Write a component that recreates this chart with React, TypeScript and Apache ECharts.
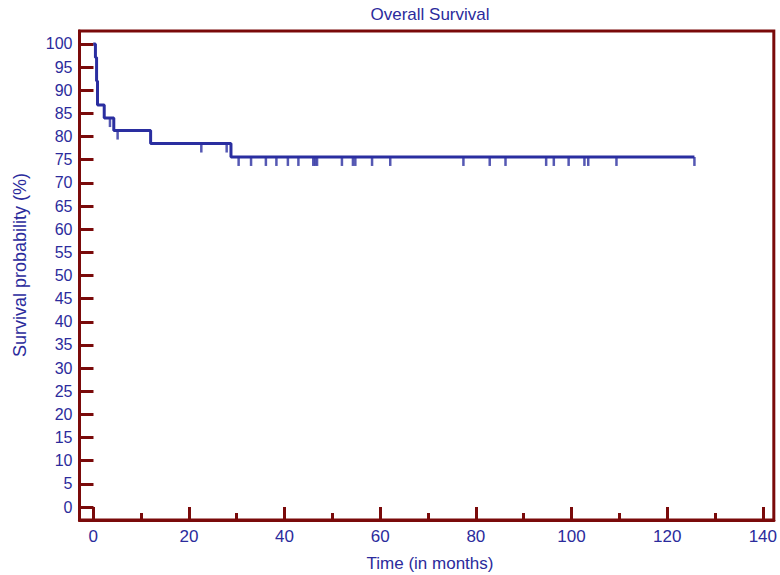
import React, { useEffect, useRef } from "react";
import * as echarts from "echarts";

const titleText = "Overall Survival";
const xName = "Time (in months)";
const yName = "Survival probability (%)";

// Kaplan-Meier step points (time in months, survival %)
const stepTimes = [0, 0.46, 0.7, 0.9, 2.3, 4.3, 12.0, 28.8, 125.7];
const stepValues = [100, 97.1, 92.0, 86.8, 84.0, 81.3, 78.5, 75.6, 75.6];

// censored observations (time in months)
const censorTimes = [
  3.5, 5.1, 22.6, 27.9, 30.4, 33.0, 36.1, 38.3, 40.7, 42.9, 46.0, 46.4, 46.8,
  52.0, 54.3, 54.8, 58.3, 62.1, 77.4, 82.9, 86.2, 94.7, 96.3, 99.4, 102.7,
  103.5, 109.4, 125.7,
];

const xMajorTicks = [0, 20, 40, 60, 80, 100, 120, 140];
const xMinorTicks = [10, 30, 50, 70, 90, 110, 130];
const yTicks = [0, 5, 10, 15, 20, 25, 30, 35, 40, 45, 50, 55, 60, 65, 70, 75, 80, 85, 90, 95, 100];

const AXIS_COLOR = "#7a0a0a";
const TEXT_COLOR = "#2b2b9c";
const LINE_COLOR = "#2a2ea0";
const FONT = "'Liberation Sans', Arial, sans-serif";

function survivalAt(t: number): number {
  let v = stepValues[0];
  for (let i = 0; i < stepTimes.length; i++) {
    if (stepTimes[i] <= t) v = stepValues[i];
  }
  return v;
}

export default function App() {
  const ref = useRef<HTMLDivElement>(null);

  useEffect(() => {
    if (!ref.current) return;
    const chart = echarts.init(ref.current, null, { renderer: "svg" });

    const stepData = stepTimes.map((t, i) => [t, stepValues[i]]);
    const censorData = censorTimes.map((t) => [t, survivalAt(t)]);

    const xCommon = {
      type: "value" as const,
      min: -2.87,
      max: 142.3,
      splitLine: { show: false },
      gridIndex: 0,
    };

    chart.setOption({
      animation: false,
      backgroundColor: "#ffffff",
      grid: {
        left: 79.5,
        right: 3,
        top: 31,
        bottom: 55,
        show: true,
        borderColor: AXIS_COLOR,
        borderWidth: 3,
        backgroundColor: "transparent",
      },
      xAxis: [
        {
          ...xCommon,
          position: "bottom",
          axisLine: { show: true, onZero: false, lineStyle: { color: AXIS_COLOR, width: 3 } },
          axisTick: {
            show: true,
            inside: true,
            length: 13,
            customValues: xMajorTicks,
            lineStyle: { color: AXIS_COLOR, width: 3 },
          },
          axisLabel: {
            show: true,
            customValues: xMajorTicks,
            color: TEXT_COLOR,
            fontSize: 17,
            fontFamily: FONT,
            margin: 8,
          },
        },
        {
          ...xCommon,
          position: "bottom",
          axisLine: { show: false, onZero: false },
          axisTick: {
            show: true,
            inside: true,
            length: 7,
            customValues: xMinorTicks,
            lineStyle: { color: AXIS_COLOR, width: 3 },
          },
          axisLabel: { show: false },
        },
      ],
      yAxis: [
        {
          type: "value",
          min: -2.8,
          max: 102.8,
          position: "left",
          splitLine: { show: false },
          axisLine: { show: true, onZero: false, lineStyle: { color: AXIS_COLOR, width: 3 } },
          axisTick: {
            show: true,
            inside: true,
            length: 14,
            customValues: yTicks,
            lineStyle: { color: AXIS_COLOR, width: 3 },
          },
          axisLabel: {
            show: true,
            customValues: yTicks,
            color: TEXT_COLOR,
            fontSize: 16,
            fontFamily: FONT,
            margin: 7,
          },
        },
      ],
      graphic: [
        {
          type: "text",
          x: 430,
          y: 14,
          style: {
            text: titleText,
            fill: TEXT_COLOR,
            font: `17px ${FONT}`,
            textAlign: "center",
            textVerticalAlign: "middle",
          },
        },
        {
          type: "text",
          x: 430,
          y: 563,
          style: {
            text: xName,
            fill: TEXT_COLOR,
            font: `17px ${FONT}`,
            textAlign: "center",
            textVerticalAlign: "middle",
          },
        },
        {
          type: "text",
          x: 20,
          y: 265,
          rotation: Math.PI / 2,
          style: {
            text: yName,
            fill: TEXT_COLOR,
            font: `18px ${FONT}`,
            textAlign: "center",
            textVerticalAlign: "middle",
          },
        },
      ],
      series: [
        {
          type: "line",
          xAxisIndex: 0,
          yAxisIndex: 0,
          step: "end",
          data: stepData,
          showSymbol: false,
          symbol: "none",
          lineStyle: { color: LINE_COLOR, width: 3 },
          z: 3,
        },
        {
          type: "scatter",
          xAxisIndex: 0,
          yAxisIndex: 0,
          data: censorData,
          symbol: "rect",
          symbolSize: [2.5, 9],
          symbolOffset: [0, 4.5],
          itemStyle: { color: LINE_COLOR },
          z: 3,
        },
      ],
    });

    return () => chart.dispose();
  }, []);

  return <div ref={ref} style={{ width: 780, height: 575, position: "absolute", left: 0, top: 0 }} />;
}
